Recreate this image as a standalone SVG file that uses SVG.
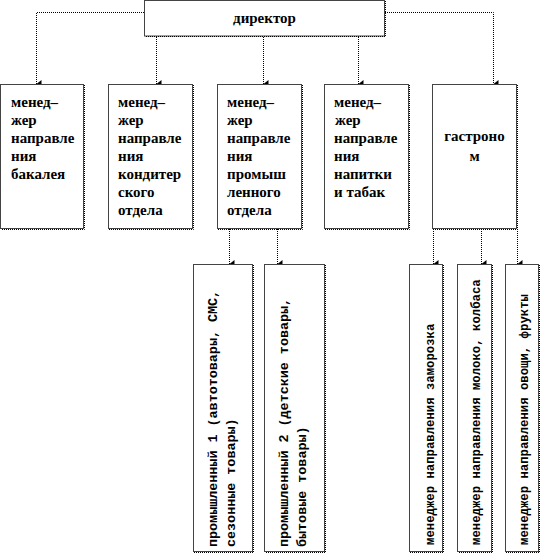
<svg xmlns="http://www.w3.org/2000/svg" width="542" height="554" viewBox="0 0 542 554">
<defs>
<marker id="arr" markerUnits="userSpaceOnUse" markerWidth="8" markerHeight="7" refX="4" refY="6" orient="auto" viewBox="0 0 8 7">
<path d="M0,1 L8,1 L4,6 Z" fill="#000"/>
</marker>
</defs>
<style>
.box{fill:#fff;stroke:#444;stroke-width:1}
.sh{fill:none;stroke:#000;stroke-width:1;stroke-dasharray:1 1}
.con{fill:none;stroke:#000;stroke-width:1;stroke-dasharray:1 1}
.t{font-family:'Liberation Serif','DejaVu Serif',serif;font-weight:bold;font-size:15px;fill:#000}
.v{font-family:'Liberation Mono','DejaVu Sans Mono',monospace;font-weight:bold;font-size:13.4px;fill:#000}
.vm{font-family:'Liberation Mono','DejaVu Sans Mono',monospace;font-weight:bold;font-size:12.3px;fill:#000}
</style>
<rect width="542" height="554" fill="#fff"/>
<g id="connectors">
<polyline class="con" points="144,12.5 36.5,12.5 36.5,84" marker-end="url(#arr)"/>
<polyline class="con" points="385,12.5 493.5,12.5 493.5,84" marker-end="url(#arr)"/>
<line class="con" x1="156.5" y1="37" x2="156.5" y2="84" marker-end="url(#arr)"/>
<line class="con" x1="263.5" y1="37" x2="263.5" y2="84" marker-end="url(#arr)"/>
<line class="con" x1="358.5" y1="37" x2="358.5" y2="84" marker-end="url(#arr)"/>
<line class="con" x1="229.5" y1="229" x2="229.5" y2="264" marker-end="url(#arr)"/>
<line class="con" x1="277.5" y1="229" x2="277.5" y2="264" marker-end="url(#arr)"/>
<line class="con" x1="433.5" y1="229" x2="433.5" y2="264" marker-end="url(#arr)"/>
<line class="con" x1="481.5" y1="229" x2="481.5" y2="264" marker-end="url(#arr)"/>
<line class="con" x1="517.5" y1="229" x2="517.5" y2="264" marker-end="url(#arr)"/>
</g>
<g id="director">
<rect class="box" x="144.5" y="0.5" width="240" height="35.5"/>
<polyline class="sh" points="385.5,1 385.5,36.5 145,36.5"/>
<text class="t" x="264.5" y="22.5" text-anchor="middle">директор</text>
</g>
<g id="bakaleya">
<rect class="box" x="0.5" y="84.5" width="83" height="144"/>
<polyline class="sh" points="84.5,85 84.5,229.5 1,229.5"/>
<text class="t" x="11" y="106.5">менед–</text>
<text class="t" x="11" y="124.7">жер</text>
<text class="t" x="11" y="142.8">направле</text>
<text class="t" x="11" y="161">ния</text>
<text class="t" x="11" y="179.1">бакалея</text>
</g>
<g id="konditer">
<rect class="box" x="108.5" y="84.5" width="84" height="144"/>
<polyline class="sh" points="193.5,85 193.5,229.5 109,229.5"/>
<text class="t" x="118" y="106.5">менед–</text>
<text class="t" x="118" y="124.7">жер</text>
<text class="t" x="118" y="142.8">направле</text>
<text class="t" x="118" y="161">ния</text>
<text class="t" x="118" y="179.1">кондитер</text>
<text class="t" x="118" y="197.3">ского</text>
<text class="t" x="118" y="215.4">отдела</text>
</g>
<g id="promyshl">
<rect class="box" x="217.5" y="84.5" width="84" height="144"/>
<polyline class="sh" points="302.5,85 302.5,229.5 218,229.5"/>
<text class="t" x="227" y="106.5">менед–</text>
<text class="t" x="227" y="124.7">жер</text>
<text class="t" x="227" y="142.8">направле</text>
<text class="t" x="227" y="161">ния</text>
<text class="t" x="227" y="179.1">промыш</text>
<text class="t" x="227" y="197.3">ленного</text>
<text class="t" x="227" y="215.4">отдела</text>
</g>
<g id="napitki">
<rect class="box" x="324.5" y="84.5" width="84" height="144"/>
<polyline class="sh" points="409.5,85 409.5,229.5 325,229.5"/>
<text class="t" x="334" y="106.5">менед–</text>
<text class="t" x="335" y="124.7">жер</text>
<text class="t" x="334" y="142.8">направле</text>
<text class="t" x="334" y="161">ния</text>
<text class="t" x="334" y="179.1">напитки</text>
<text class="t" x="334" y="197.3">и табак</text>
</g>
<g id="gastronom">
<rect class="box" x="432.5" y="84.5" width="84" height="144"/>
<polyline class="sh" points="517.5,85 517.5,229.5 433,229.5"/>
<text class="t" x="474.5" y="141" text-anchor="middle">гастроно</text>
<text class="t" x="474.5" y="161" text-anchor="middle">м</text>
</g>
<g id="prom1">
<rect class="box" x="193.5" y="264.5" width="59" height="287"/>
<polyline class="sh" points="253.5,265 253.5,552.5 194,552.5"/>
<text class="v" transform="translate(217,547) rotate(-90)">промышленный 1 (автотовары, СМС,</text>
<text class="v" transform="translate(235,547) rotate(-90)">сезонные товары)</text>
</g>
<g id="prom2">
<rect class="box" x="264.5" y="264.5" width="60" height="287"/>
<polyline class="sh" points="325.5,265 325.5,552.5 265,552.5"/>
<text class="v" transform="translate(288,547) rotate(-90)">промышленный 2 (детские товары,</text>
<text class="v" transform="translate(306,547) rotate(-90)">бытовые товары)</text>
</g>
<g id="zamorozka">
<rect class="box" x="409.5" y="264.5" width="33" height="287"/>
<polyline class="sh" points="443.5,265 443.5,552.5 410,552.5"/>
<text class="vm" transform="translate(433.5,545) rotate(-90)">менеджер направления заморозка</text>
</g>
<g id="moloko">
<rect class="box" x="457.5" y="264.5" width="34" height="287"/>
<polyline class="sh" points="492.5,265 492.5,552.5 458,552.5"/>
<text class="vm" transform="translate(480,545) rotate(-90)">менеджер направления молоко, колбаса</text>
</g>
<g id="ovoshi">
<rect class="box" x="505.5" y="264.5" width="33" height="287"/>
<polyline class="sh" points="539.5,265 539.5,552.5 506,552.5"/>
<text class="vm" transform="translate(528,545) rotate(-90)">менеджер направления овощи, фрукты</text>
</g>
</svg>
